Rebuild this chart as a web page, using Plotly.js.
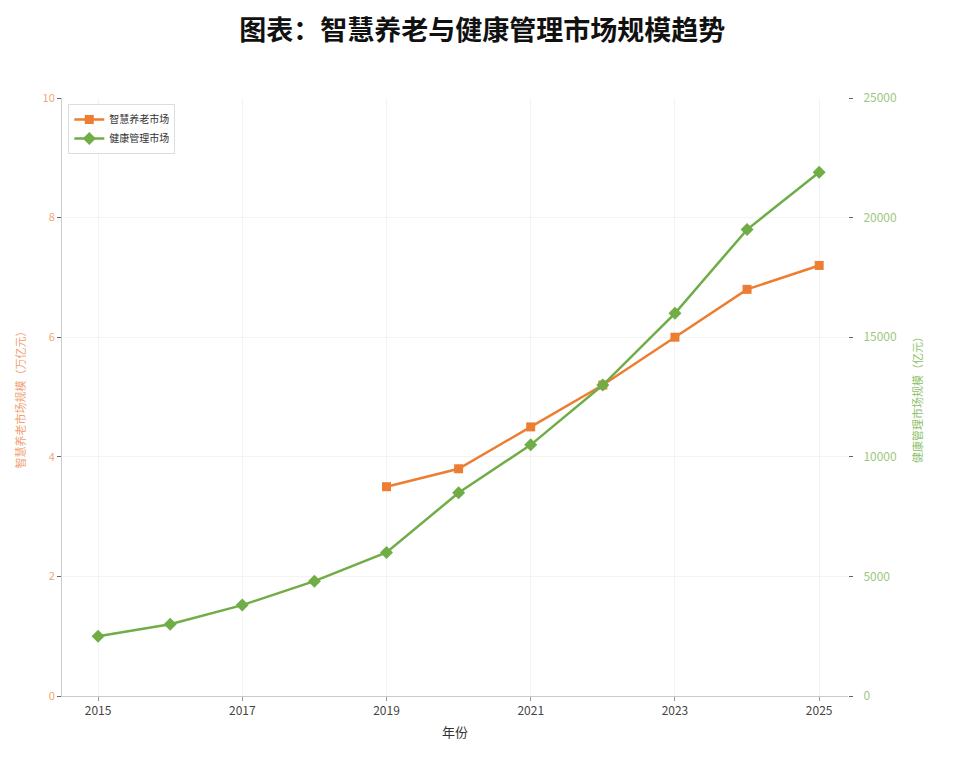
<!DOCTYPE html>
<html>
<head>
<meta charset="utf-8">
<script src="https://cdn.plot.ly/plotly-3.0.1.min.js"></script>
<style>
  body{margin:0;background:#fff}
  #chart{width:980px;height:765px}
</style>
</head>
<body>
<div id="chart"></div>
<script>
// data
const years = [2015,2016,2017,2018,2019,2020,2021,2022,2023,2024,2025]
const elderYears = [2019,2020,2021,2022,2023,2024,2025]
const elderVals = [3.5,3.8,4.5,5.2,6.0,6.8,7.2]          // 万亿元
const healthVals = [2500,3000,3800,4800,6000,8500,10500,13000,16000,19500,21900] // 亿元
const xTicks = [2015,2017,2019,2021,2023,2025]
const rightTicks = [0,5000,10000,15000,20000,25000]

const FONT = '"Noto Sans CJK SC", "Noto Sans", sans-serif'
const orange = '#ED7D31'
const green = '#70AD47'

let elder = {
    x: elderYears, y: elderVals,
    name: '智慧养老市场',
    mode: 'lines+markers',
    line: {color: orange, width: 2.5},
    marker: {symbol: 'square', size: 9, color: orange},
    yaxis: 'y'
}
let health = {
    x: years, y: healthVals,
    name: '健康管理市场',
    mode: 'lines+markers',
    line: {color: green, width: 2.5},
    marker: {symbol: 'diamond', size: 10, color: green},
    yaxis: 'y2'
}

let layout = {
    width: 980, height: 765,
    margin: {l: 62, r: 132, t: 98, b: 69},
    paper_bgcolor: '#fff', plot_bgcolor: '#fff',
    font: {family: FONT, size: 11, color: '#333'},
    title: {
        text: '<b>图表：智慧养老与健康管理市场规模趋势</b>',
        font: {family: FONT, size: 27, color: '#111'},
        x: 0.492, xanchor: 'center', y: 0.96, yanchor: 'middle'
    },
    showlegend: true,
    legend: {
        x: 0.008, y: 0.99, xanchor: 'left', yanchor: 'top',
        bgcolor: 'rgba(255,255,255,0.9)', bordercolor: '#ddd', borderwidth: 1,
        font: {family: FONT, size: 10, color: '#333'},
        tracegroupgap: 0
    },
    xaxis: {
        range: [2014.5, 2025.4],
        tickmode: 'array', tickvals: xTicks, ticktext: xTicks.map(String),
        showgrid: true, gridcolor: '#f3f3f3', gridwidth: 1,
        showline: true, linecolor: '#ccc', linewidth: 1,
        ticks: 'outside', ticklen: 4, tickcolor: '#999',
        tickfont: {family: FONT, size: 12, color: '#444'},
        zeroline: false,
        title: {text: '年份', font: {family: FONT, size: 13, color: '#333'}, standoff: 10}
    },
    yaxis: {
        range: [0, 10], tickvals: [0,2,4,6,8,10],
        showgrid: true, gridcolor: '#f3f3f3',
        showline: true, linecolor: '#ccc', linewidth: 1,
        ticks: 'outside', ticklen: 4, tickcolor: '#666',
        tickfont: {family: FONT, size: 11, color: '#F0A878'},
        zeroline: false,
        title: {text: '智慧养老市场规模（万亿元）', font: {family: FONT, size: 11, color: '#F0A070'}, standoff: 14}
    },
    yaxis2: {
        range: [0, 25000], tickmode: 'array', tickvals: rightTicks, ticktext: rightTicks.map(String),
        overlaying: 'y', side: 'right',
        showgrid: false, showline: false,
        ticks: 'outside', ticklen: 4, tickcolor: '#666',
        ticklabelstandoff: 8,
        tickfont: {family: FONT, size: 12, color: '#9CC880'},
        zeroline: false,
        title: {text: '健康管理市场规模（亿元）', font: {family: FONT, size: 11, color: '#8DC06A'}, standoff: 18}
    }
}

Plotly.newPlot(document.getElementById('chart'), [elder, health], layout, {displayModeBar: false})
</script>
</body>
</html>
